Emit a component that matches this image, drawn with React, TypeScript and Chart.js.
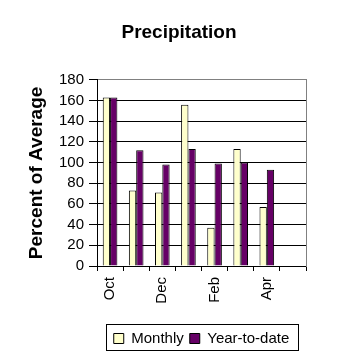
import React, { useEffect, useRef } from "react";
import { Chart, registerables } from "chart.js";

Chart.register(...registerables);

const CATEGORIES = ["Oct", "Nov", "Dec", "Jan", "Feb", "Mar", "Apr", "May"];
const TICK_LABELS = ["Oct", "", "Dec", "", "Feb", "", "Apr", ""];
const MONTHLY = [163, 73, 71, 156, 37, 113, 57, null];
const YEAR_TO_DATE = [163, 112, 98, 113, 99, 100, 93, null];
const Y_MIN = 0;
const Y_MAX = 180;
const Y_STEP = 20;

const FONT = "'Liberation Sans', Arial, sans-serif";

const legendBorder = {
  id: "legendBorder",
  afterDraw(chart: any) {
    const lg = chart.legend;
    if (!lg || !lg.legendHitBoxes || !lg.legendHitBoxes.length) return;
    const hb = lg.legendHitBoxes;
    const first = hb[0];
    const last = hb[hb.length - 1];
    const x0 = Math.round(first.left - 8) + 0.5;
    const x1 = Math.round(last.left + last.width + 9) + 0.5;
    const y0 = Math.round(first.top - 7) + 0.5;
    const y1 = Math.round(first.top + first.height + 4) + 0.5;
    const ctx = chart.ctx;
    ctx.save();
    ctx.strokeStyle = "#000";
    ctx.lineWidth = 1;
    ctx.strokeRect(x0, y0, x1 - x0, y1 - y0);
    ctx.restore();
  },
};

export default function App() {
  const ref = useRef<HTMLCanvasElement | null>(null);
  useEffect(() => {
    document.body.style.margin = "0";
    const canvas = ref.current;
    if (!canvas) return;
    const chart = new Chart(canvas, {
      type: "bar",
      data: {
        labels: CATEGORIES,
        datasets: [
          {
            label: "Monthly",
            data: MONTHLY,
            backgroundColor: "#FFFFCC",
            borderColor: "#000",
            borderWidth: 1,
          },
          {
            label: "Year-to-date",
            data: YEAR_TO_DATE,
            backgroundColor: "#660066",
            borderColor: "#000",
            borderWidth: 1,
          },
        ],
      },
      options: {
        animation: false,
        responsive: false,
        maintainAspectRatio: false,
        layout: { padding: { left: 0, right: 0, top: 0, bottom: 2 } },
        datasets: {
          bar: { categoryPercentage: 0.56, barPercentage: 1 },
        },
        plugins: {
          title: {
            display: true,
            text: "Precipitation",
            color: "#000",
            font: { family: FONT, size: 19, weight: "bold" },
            padding: { top: 21, bottom: 36 },
          },
          legend: {
            display: true,
            position: "bottom",
            fullSize: false,
            labels: {
              color: "#000",
              font: { family: FONT, size: 15 },
              boxWidth: 10,
              boxHeight: 10,
              padding: 6,
            },
          },
          tooltip: { enabled: false },
        },
        scales: {
          x: {
            grid: {
              drawOnChartArea: false,
              drawTicks: true,
              tickLength: 5,
              color: "#000",
              offset: true,
            },
            border: { display: true, color: "#000" },
            ticks: {
              autoSkip: false,
              maxRotation: 90,
              minRotation: 90,
              padding: 6,
              color: "#000",
              font: { family: FONT, size: 15 },
              callback: (_v: any, i: number) => TICK_LABELS[i],
            },
            afterFit: (s: any) => {
              s.height = 59;
            },
          },
          y: {
            min: Y_MIN,
            max: Y_MAX,
            ticks: {
              stepSize: Y_STEP,
              autoSkip: false,
              padding: 5,
              color: "#000",
              font: { family: FONT, size: 15 },
            },
            grid: {
              color: (c: any) => (c.tick && c.tick.value === Y_MAX ? "#808080" : "#000"),
              tickColor: "#000",
              tickLength: 8,
            },
            border: { display: true, color: "#000" },
            title: {
              display: true,
              text: "Percent of Average",
              color: "#000",
              font: { family: FONT, size: 19, weight: "bold" },
              padding: { top: 25, bottom: 0 },
            },
            afterFit: (s: any) => {
              s.width = 97;
            },
          },
          yRight: {
            position: "right",
            display: true,
            grid: { display: false, drawTicks: false },
            ticks: { display: false },
            border: { display: true, color: "#808080" },
            afterFit: (s: any) => {
              s.width = 52;
            },
          },
        },
      },
      plugins: [legendBorder],
    } as any);
    return () => chart.destroy();
  }, []);
  return (
    <div style={{ width: 358, height: 358 }}>
      <canvas ref={ref} width={358} height={358} style={{ display: "block", width: 358, height: 358 }} />
    </div>
  );
}
